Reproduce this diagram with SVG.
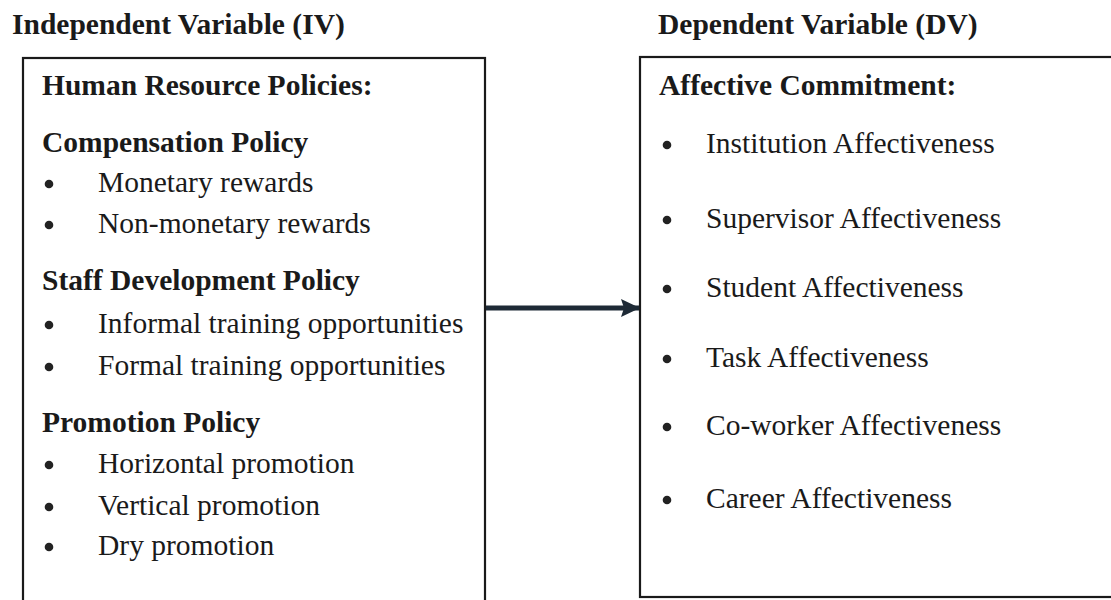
<svg xmlns="http://www.w3.org/2000/svg" width="1111" height="600" viewBox="0 0 1111 600">
  <style>
    text { font-family: "Liberation Serif", "Times New Roman", serif; font-size: 29.5px; fill: #1a1a1a; }
    .b { font-weight: bold; }
    .box { fill: none; stroke: #1a1a1a; stroke-width: 2.2; }
    .dot { fill: #222; }
    .conn { stroke: #1e2a36; stroke-width: 5; fill: none; }
  </style>
  <defs>
    <marker id="arrowhead" markerWidth="19" markerHeight="18" refX="18" refY="9" orient="auto" markerUnits="userSpaceOnUse">
      <path d="M0,0 L19,9 L0,18 L3,9 Z" fill="#1e2a36"/>
    </marker>
  </defs>
  <rect width="1111" height="600" fill="#fff"/>

  <text class="b" x="12" y="34">Independent Variable (IV)</text>
  <text class="b" x="658" y="34">Dependent Variable (DV)</text>

  <!-- Left box: human resource policies -->
  <g id="iv-policies">
    <rect class="box" x="23" y="58" width="462" height="560"/>
    <text class="b" x="42" y="95">Human Resource Policies:</text>
    <text class="b" x="42" y="152">Compensation Policy</text>
    <circle class="dot" cx="49" cy="184" r="4.3"/>
    <text x="98" y="192">Monetary rewards</text>
    <circle class="dot" cx="49" cy="225" r="4.3"/>
    <text x="98" y="233">Non-monetary rewards</text>
    <text class="b" x="42" y="290">Staff Development Policy</text>
    <circle class="dot" cx="49" cy="325" r="4.3"/>
    <text x="98" y="333">Informal training opportunities</text>
    <circle class="dot" cx="49" cy="367" r="4.3"/>
    <text x="98" y="375">Formal training opportunities</text>
    <text class="b" x="42" y="432">Promotion Policy</text>
    <circle class="dot" cx="49" cy="465" r="4.3"/>
    <text x="98" y="473">Horizontal promotion</text>
    <circle class="dot" cx="49" cy="507" r="4.3"/>
    <text x="98" y="515">Vertical promotion</text>
    <circle class="dot" cx="49" cy="547" r="4.3"/>
    <text x="98" y="555">Dry promotion</text>
  </g>

  <!-- Right box: affective commitment -->
  <g id="dv-commitment">
    <rect class="box" x="640" y="57" width="500" height="540"/>
    <text class="b" x="659" y="95">Affective Commitment:</text>
    <circle class="dot" cx="667" cy="145" r="4.3"/>
    <text x="706" y="153">Institution Affectiveness</text>
    <circle class="dot" cx="667" cy="220" r="4.3"/>
    <text x="706" y="228">Supervisor Affectiveness</text>
    <circle class="dot" cx="667" cy="289" r="4.3"/>
    <text x="706" y="297">Student Affectiveness</text>
    <circle class="dot" cx="667" cy="359" r="4.3"/>
    <text x="706" y="367">Task Affectiveness</text>
    <circle class="dot" cx="667" cy="427" r="4.3"/>
    <text x="706" y="435">Co-worker Affectiveness</text>
    <circle class="dot" cx="667" cy="500" r="4.3"/>
    <text x="706" y="508">Career Affectiveness</text>
  </g>

  <g id="connectors">
    <line class="conn" x1="486" y1="308" x2="639" y2="308" marker-end="url(#arrowhead)"/>
  </g>
</svg>
